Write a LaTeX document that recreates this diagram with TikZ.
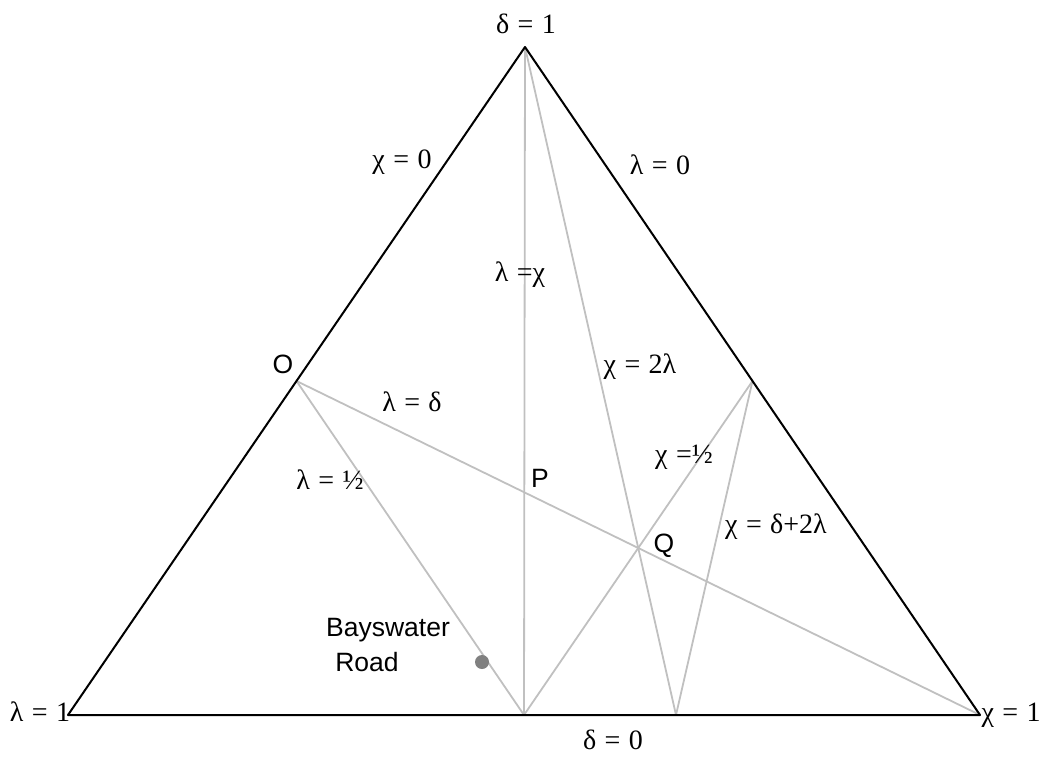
\documentclass[tikz,border=0pt]{standalone}
\usepackage{fontspec}
\setmainfont{Liberation Serif}
\newfontfamily\sansfont{Liberation Sans}
\usetikzlibrary{calc}
\definecolor{ruleGrey}{RGB}{192,192,192}
\definecolor{dotGrey}{RGB}{128,128,128}
\newcommand{\eqs}{\hspace{0.3em}=\hspace{0.3em}}
\tikzset{
  edge/.style={line width=2pt, black},
  rule/.style={line width=1.8pt, ruleGrey},
  eqlabel/.style={font=\fontsize{28}{28}\selectfont, inner sep=0pt},
  ptlabel/.style={font=\sansfont\fontsize{26.5}{26.5}\selectfont, inner sep=0pt}
}
\begin{document}
\begin{tikzpicture}[x=1pt, y=-1pt, line cap=round, line join=round]
\useasboundingbox (0,0) rectangle (1042,756);
\coordinate (L) at (68,715);
\coordinate (X) at (980,715);
\coordinate (D) at (525,47);

\coordinate (M) at ($(L)!0.5!(X)$);
\coordinate (O) at ($(L)!0.5!(D)$);
\coordinate (R) at ($(X)!0.5!(D)$);
\coordinate (N) at ($(L)!2/3!(X)$);

\draw[rule] (D)--(M);
\draw[rule] (O)--(X);
\draw[rule] (O)--(M);
\draw[rule] (M)--(R);
\draw[rule] (R)--(N);
\draw[rule] (D)--(N);

\draw[edge] (L)--(X)--(D)--cycle;

\fill[dotGrey] (482,662) circle (7);

\node[eqlabel] (d1) at (526,24) {δ\eqs1};
\node[eqlabel] (l1) at (40,712) {λ\eqs1};
\node[eqlabel] (c1) at (1011,715) {χ\eqs1};
\node[eqlabel] (d0) at (613,740) {δ\eqs0};
\node[eqlabel] (c0) at (402,162) {χ\eqs0};
\node[eqlabel] (l0) at (660,165) {λ\eqs0};
\node[eqlabel] (lc) at (520,275) {λ\hspace{0.3em}=χ};
\node[eqlabel] (ld) at (412,402) {λ\eqs δ};
\node[eqlabel] (lh) at (330,480) {λ\eqs½};
\node[eqlabel] (c2l) at (640,367) {χ\eqs2λ};
\node[eqlabel] (ch) at (684,457) {χ\hspace{0.3em}=½};
\node[eqlabel] (cd2l) at (776,527) {χ\eqs δ+2λ};

\node[ptlabel] (o) at (283,364) {O};
\node[ptlabel] (p) at (540,478) {P};
\node[ptlabel] (q) at (664,546) {Q};
\node[ptlabel] (bay) at (388,630) {Bayswater};
\node[ptlabel] (road) at (367,662) {Road};
\end{tikzpicture}
\end{document}
